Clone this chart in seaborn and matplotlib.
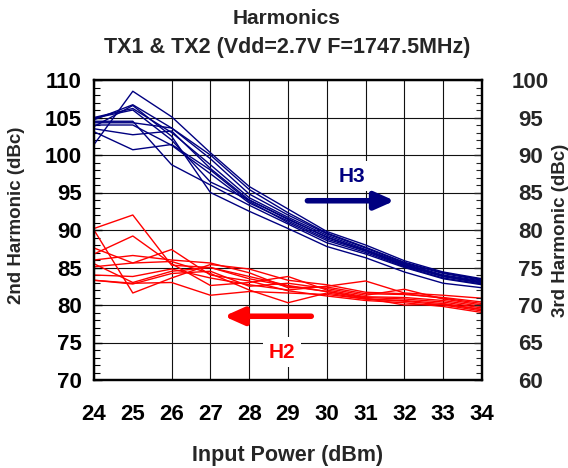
import matplotlib
matplotlib.use("Agg")
import matplotlib.pyplot as plt
import seaborn as sns
from matplotlib.ticker import MultipleLocator

# input power sweep (dBm)
power = [24, 25, 26, 27, 28, 29, 30, 31, 32, 33, 34]

# 2nd harmonic curves (dBc, left axis)
h2_curves = [
    [90.2, 92.0, 85.3, 85.0, 83.5, 82.5, 81.8, 81.0, 80.8, 80.4, 79.6],
    [90.0, 81.6, 83.6, 85.4, 84.8, 83.3, 82.7, 81.7, 81.5, 80.9, 80.2],
    [86.8, 89.2, 85.5, 82.6, 83.0, 83.8, 82.0, 81.1, 81.0, 80.6, 79.8],
    [87.6, 85.6, 85.8, 84.2, 82.0, 80.3, 81.6, 80.8, 80.6, 80.2, 79.4],
    [86.0, 86.6, 86.0, 85.6, 84.3, 82.3, 82.4, 81.5, 81.4, 81.0, 80.4],
    [85.1, 85.6, 87.4, 84.0, 83.2, 81.9, 81.2, 80.6, 80.3, 79.8, 79.0],
    [84.0, 83.8, 84.8, 83.6, 82.7, 82.0, 82.5, 83.2, 81.6, 81.3, 80.9],
    [83.3, 82.8, 84.2, 84.5, 82.5, 82.9, 82.2, 81.3, 82.1, 80.8, 80.0],
    [83.3, 82.9, 83.0, 81.3, 81.8, 81.6, 81.4, 80.8, 80.5, 80.0, 79.2],
    [85.5, 83.0, 84.5, 85.0, 83.8, 82.6, 81.8, 80.9, 80.0, 80.1, 79.4],
]

# 3rd harmonic curves (dBc, right axis)
h3_curves = [
    [91.4, 98.5, 95.1, 90.3, 85.8, 82.8, 79.8, 78.0, 75.9, 74.4, 73.5],
    [94.7, 96.7, 93.6, 89.5, 84.8, 82.0, 79.5, 77.6, 75.6, 74.2, 73.3],
    [95.0, 96.2, 93.0, 88.7, 84.3, 81.7, 79.3, 77.4, 75.5, 74.0, 73.2],
    [94.9, 96.0, 92.0, 86.4, 84.0, 81.5, 79.0, 77.3, 75.4, 73.9, 73.1],
    [94.3, 94.3, 93.6, 90.0, 85.4, 82.3, 79.6, 77.7, 75.7, 74.3, 73.4],
    [94.0, 94.0, 91.3, 87.5, 83.6, 81.2, 78.8, 77.2, 75.3, 73.8, 73.0],
    [93.5, 92.7, 93.2, 88.2, 84.0, 81.4, 79.1, 77.2, 75.2, 73.8, 72.9],
    [93.1, 90.7, 91.4, 88.0, 83.8, 81.0, 78.6, 77.0, 75.1, 73.6, 72.8],
    [94.5, 94.5, 88.7, 86.0, 83.3, 80.8, 78.3, 76.8, 75.0, 73.5, 72.7],
    [93.8, 96.6, 92.5, 85.0, 82.5, 80.2, 77.8, 76.3, 74.4, 72.9, 72.3],
]

navy = "#000080"
red = "#ff0000"

sns.set_style("white")
plt.rcParams["font.family"] = ["Liberation Sans", "DejaVu Sans"]
plt.rcParams["font.weight"] = "bold"

fig = plt.figure(figsize=(5.68, 4.68), dpi=100)
ax = fig.add_axes([94 / 568, 1 - 380 / 468, 388 / 568, 300 / 468])
ax2 = ax.twinx()

for c in h2_curves:
    sns.lineplot(x=power, y=c, color=red, lw=1, ax=ax)
for c in h3_curves:
    sns.lineplot(x=power, y=c, color=navy, lw=1, ax=ax2)

ax.set_xlim(24, 34)
ax.set_ylim(70, 110)
ax2.set_ylim(60, 100)

ax.xaxis.set_major_locator(MultipleLocator(1))
ax.xaxis.set_minor_locator(MultipleLocator(0.2))
ax.yaxis.set_major_locator(MultipleLocator(5))
ax.yaxis.set_minor_locator(MultipleLocator(1))
ax2.yaxis.set_major_locator(MultipleLocator(5))
ax2.yaxis.set_minor_locator(MultipleLocator(1))

ax.grid(True, which="major", color="#111111", lw=0.8)
ax.get_xgridlines()[2].set_visible(False)  # no line at 26 in the original

ax.tick_params(axis="both", which="both", direction="in", colors="black",
               labelsize=16, top=False, right=False)
ax.tick_params(axis="both", which="major", length=6, width=1)
ax.tick_params(axis="both", which="minor", length=4, width=0.8)
ax.tick_params(axis="x", pad=17)
ax.tick_params(axis="y", pad=9)
ax2.tick_params(axis="y", which="both", direction="in", labelsize=16, right=True)
ax2.tick_params(axis="y", which="major", length=6, width=1, pad=35)
ax2.tick_params(axis="y", which="minor", length=4, width=0.8)
for lab in ax2.get_yticklabels():
    lab.set_horizontalalignment("center")
for lab in ax.get_xticklabels() + ax.get_yticklabels() + ax2.get_yticklabels():
    lab.set_fontweight("bold")

for a in (ax, ax2):
    for s in a.spines.values():
        s.set_linewidth(1.6)
        s.set_color("black")

ax.set_xlabel("Input Power (dBm)", fontsize=15.5, fontweight="bold")
ax.xaxis.set_label_coords(0.5, -0.217)
ax.set_ylabel("2nd Harmonic (dBc)", fontsize=13.5, fontweight="bold")
ax.yaxis.set_label_coords(-0.178, 0.55)
ax2.set_ylabel("3rd Harmonic (dBc)", fontsize=13.5, fontweight="bold", rotation=90)
ax2.yaxis.set_label_coords(1.18, 0.5)

fig.text(0.505, 1 - 18 / 468, "Harmonics", ha="center", va="center",
         fontsize=15, fontweight="bold")
fig.text(0.505, 1 - 47 / 468, "TX1 & TX2 (Vdd=2.7V F=1747.5MHz)", ha="center",
         va="center", fontsize=15.5, fontweight="bold")

# H3 / H2 markers with arrows
arrow = "-|>,head_length=0.9,head_width=0.4"
ax.annotate("", xy=(31.75, 93.9), xytext=(29.5, 93.9),
            arrowprops=dict(arrowstyle=arrow, lw=4, color=navy,
                            mutation_scale=13, shrinkA=0, shrinkB=0))
ax.text(30.65, 97.2, "H3", color=navy, fontsize=15, fontweight="bold",
        ha="center", va="center",
        bbox=dict(fc="white", ec="none", pad=4))
ax.annotate("", xy=(27.35, 78.5), xytext=(29.6, 78.5),
            arrowprops=dict(arrowstyle=arrow, lw=4, color=red,
                            mutation_scale=13, shrinkA=0, shrinkB=0))
ax.text(28.85, 73.7, "H2", color=red, fontsize=15, fontweight="bold",
        ha="center", va="center",
        bbox=dict(fc="white", ec="none", pad=4))

fig.savefig("out.png", dpi=100)
